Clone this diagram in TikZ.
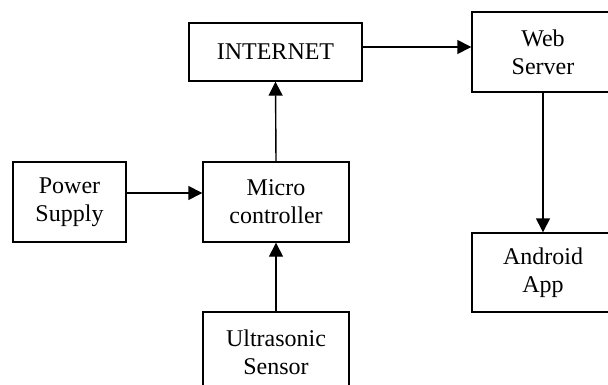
\documentclass[tikz,border=0pt]{standalone}
\usepackage{fontspec}
\setmainfont{Liberation Serif}
\usetikzlibrary{arrows.meta}

\begin{document}
\begin{tikzpicture}[x=1pt,y=-1pt,
	blk/.style={draw,line width=1.4pt,align=center,inner sep=0pt,
		font=\fontsize{24}{28}\selectfont},
	arr/.style={line width=1.4pt,-{Triangle[length=14pt,width=14pt]}}]
	\useasboundingbox (0,0) rectangle (608,385);
	\node[blk,minimum width=173pt,minimum height=58pt] (internet) at (275.5,52) {INTERNET};
	\node[blk,minimum width=142pt,minimum height=80pt] (web) at (543,52) {Web\\Server};
	\node[blk,minimum width=113pt,minimum height=80pt] (power) at (69.5,202) {Power\\Supply};
	\node[blk,minimum width=146pt,minimum height=80pt] (micro) at (276,202) {Micro\\controller};
	\node[blk,minimum width=146pt,minimum height=80pt] (ultra) at (276,352) {Ultrasonic\\Sensor};
	\node[blk,minimum width=142pt,minimum height=79pt] (android) at (543,272.5) {Android\\App};
	%\draw (internet) -- (web);
	\draw[arr] ([yshift=5pt]internet.east) -- ([yshift=5pt]web.west);
	\draw[arr] (micro.north) -- (internet.south);
	\draw[arr] ([yshift=9pt]power.east) -- ([yshift=9pt]micro.west);
	\draw[arr] (ultra.north) -- (micro.south);
	\draw[arr] (web.south) -- (android.north);
\end{tikzpicture}
\end{document}
